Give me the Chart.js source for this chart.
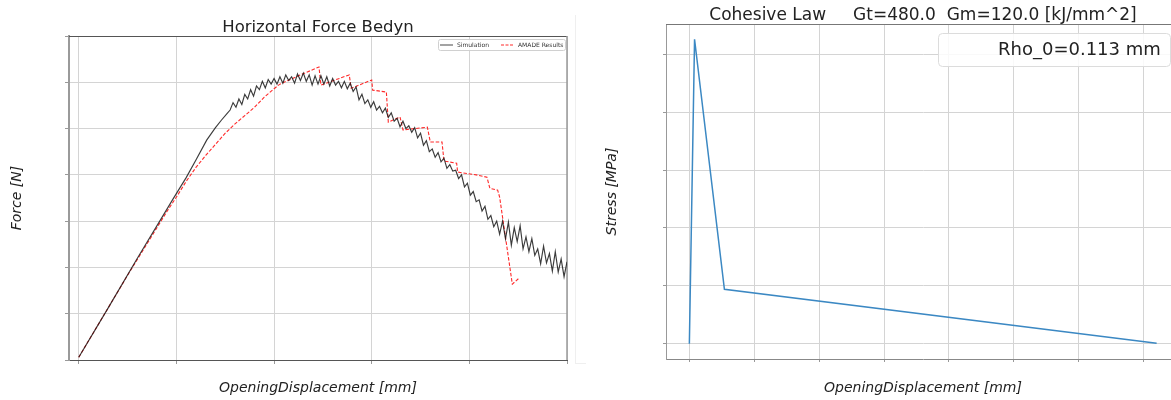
<!DOCTYPE html>
<html><head><meta charset="utf-8">
<script src="https://cdn.jsdelivr.net/npm/chart.js@4.4.1/dist/chart.umd.min.js"></script>
<style>
html,body{margin:0;padding:0;background:#fff;width:1171px;height:400px;overflow:hidden;position:relative}
#c1{position:absolute;left:0;top:0}
#c2{position:absolute;left:590px;top:0}
#edge{position:absolute;left:575px;top:15px;width:10px;height:348px;border-right:0;border-left:1px solid #efefef;border-bottom:1px solid #efefef}
</style></head><body>
<div id="edge"></div>
<canvas id="c1" width="636" height="400"></canvas>
<canvas id="c2" width="666" height="400"></canvas>
<script>
// ---------- Left chart: Horizontal Force Bedyn ----------
const leftTitle = 'Horizontal Force Bedyn';
const leftXLabel = 'OpeningDisplacement [mm]';
const leftYLabel = 'Force [N]';
const simLabel = 'Simulation';
const amadeLabel = 'AMADE Results';

const simX = [0,0.3,0.6,0.96,1.1,1.2,1.31,1.4,1.46,1.52,
1.55,1.58,1.61,1.64,1.67,1.70,1.73,1.76,1.79,1.82,1.85,1.88,1.91,1.94,1.97,
2.00,2.03,2.06,2.09,2.12,2.15,2.18,2.21,2.24,2.27,2.30,2.33,2.36,2.39,2.42,2.45,2.48,
2.51,2.54,2.57,2.60,2.63,2.66,2.69,2.72,2.75,2.78,2.81,2.84,2.87,2.90,2.93,2.96,2.99,
3.02,3.05,3.08,3.11,3.14,3.17,3.20,3.23,3.26,3.29,3.32,3.35,3.38,3.41,3.44,3.47,3.50,
3.53,3.56,3.59,3.62,3.65,3.68,3.71,3.74,3.77,3.80,3.83,3.86,3.89,3.92,3.95,3.98,
4.01,4.04,4.07,4.10,4.13,4.16,4.19,4.22,4.25,4.28,4.31,4.34,4.37,4.40,4.43,4.46,4.49,
4.52,4.55,4.58,4.61,4.64,4.67,4.70,4.73,4.76,4.79,4.82,4.85,4.88,4.91,4.94,4.97,5.00];
const simY = [0.06,1.12,2.2,3.46,3.94,4.32,4.75,5.02,5.18,5.33,
5.40,5.56,5.46,5.64,5.52,5.74,5.64,5.84,5.70,5.92,5.84,6.02,5.88,6.06,5.96,
6.08,5.96,6.12,5.98,6.16,6.04,6.12,5.98,6.18,6.04,6.20,6.02,6.16,5.94,6.14,5.96,6.14,
5.96,6.12,5.92,6.08,5.94,6.02,5.88,6.02,5.86,5.98,5.80,5.90,5.62,5.74,5.54,5.62,5.46,
5.58,5.40,5.48,5.34,5.44,5.24,5.34,5.16,5.22,5.04,5.16,5.00,5.06,4.92,5.02,4.80,4.90,
4.64,4.74,4.50,4.56,4.38,4.48,4.28,4.36,4.14,4.22,4.08,4.10,3.92,4.00,3.74,3.82,
3.56,3.64,3.42,3.46,3.22,3.32,3.04,3.12,2.88,3.00,2.72,3.00,2.62,2.98,2.48,2.86,2.56,
2.90,2.40,2.66,2.34,2.62,2.26,2.40,2.08,2.46,2.10,2.30,1.92,2.34,1.90,2.18,1.80,2.12];

const amadeX = [0,0.5,0.9,1.0,1.1,1.2,1.3,1.4,1.5,1.6,1.7,1.8,1.9,2.0,2.06,2.26,2.46,2.48,
2.77,2.79,3.00,3.01,3.15,3.17,3.29,3.32,3.57,3.60,3.72,3.74,3.87,3.88,4.07,4.18,4.21,4.29,4.31,4.44,4.51];
const amadeY = [0.06,1.83,3.2,3.52,3.86,4.16,4.42,4.66,4.9,5.1,5.28,5.46,5.68,5.86,5.96,6.15,6.33,5.94,
6.16,5.87,6.05,5.83,5.79,5.14,5.25,4.97,5.03,4.71,4.71,4.30,4.25,4.06,4.00,3.95,3.71,3.67,3.52,1.64,1.77];

// ---------- Right chart: Cohesive Law ----------
const rightTitle = 'Cohesive Law     Gt=480.0  Gm=120.0 [kJ/mm^2]';
const rightXLabel = 'OpeningDisplacement [mm]';
const rightYLabel = 'Stress [MPa]';
const rhoLabel = 'Rho_0=0.113 mm';
const lawX = [0, 0.08, 0.54, 7.2];
const lawY = [0, 5.26, 0.94, 0.01];

const FONT = 'DejaVu Sans';
const TXT = '#222';
const GRID = '#d4d4d4';

function pts(xs, ys){ return xs.map((x,i)=>({x:x, y:ys[i]})); }

function framePlugin(topColor, rightColor, rightWidth){
  return {
    id:'frame',
    beforeDatasetsDraw(chart){
      const {ctx, chartArea:a} = chart;
      ctx.save();
      ctx.strokeStyle = topColor; ctx.lineWidth = 1;
      ctx.beginPath(); ctx.moveTo(a.left, a.top+0.5); ctx.lineTo(a.right, a.top+0.5); ctx.stroke();
      if (rightColor){
        ctx.strokeStyle = rightColor; ctx.lineWidth = rightWidth;
        ctx.beginPath(); ctx.moveTo(a.right, a.top); ctx.lineTo(a.right, a.bottom); ctx.stroke();
      }
      ctx.restore();
    }
  };
}

function rrect(ctx,x,y,w,h,r){
  ctx.beginPath();
  ctx.moveTo(x+r,y); ctx.lineTo(x+w-r,y); ctx.quadraticCurveTo(x+w,y,x+w,y+r);
  ctx.lineTo(x+w,y+h-r); ctx.quadraticCurveTo(x+w,y+h,x+w-r,y+h);
  ctx.lineTo(x+r,y+h); ctx.quadraticCurveTo(x,y+h,x,y+h-r);
  ctx.lineTo(x,y+r); ctx.quadraticCurveTo(x,y,x+r,y); ctx.closePath();
}

const legend1 = {
  id:'legend1',
  afterDatasetsDraw(chart){
    const {ctx, chartArea:a} = chart;
    const w=127, h=11, x=a.right-129, y=a.top+3;
    ctx.save();
    rrect(ctx,x+0.5,y+0.5,w,h,2);
    ctx.fillStyle='rgba(255,255,255,0.85)'; ctx.fill();
    ctx.strokeStyle='#d0d0d0'; ctx.lineWidth=1; ctx.stroke();
    const ds = chart.data.datasets;
    const offs=[2,63];
    ctx.font = '6px "'+FONT+'"'; ctx.textBaseline='middle'; ctx.fillStyle='#333';
    ds.forEach((d,i)=>{
      const sx = x+offs[i];
      ctx.strokeStyle = i===0 ? '#666' : d.borderColor;
      ctx.lineWidth = 1.2;
      ctx.setLineDash(i===0 ? [] : [3,1.5]);
      ctx.beginPath(); ctx.moveTo(sx, y+6); ctx.lineTo(sx+13, y+6); ctx.stroke();
      ctx.setLineDash([]);
      ctx.fillText(d.label, sx+17, y+6);
    });
    ctx.restore();
  }
};

const legend2 = {
  id:'legend2',
  afterDatasetsDraw(chart){
    const {ctx, chartArea:a} = chart;
    const x=a.right-242, y=a.top+9, w=232, h=33;
    ctx.save();
    rrect(ctx,x+0.5,y+0.5,w,h,4);
    ctx.fillStyle='rgba(255,255,255,0.85)'; ctx.fill();
    ctx.strokeStyle='#dcdcdc'; ctx.lineWidth=1; ctx.stroke();
    ctx.font = '18px "'+FONT+'"'; ctx.textBaseline='alphabetic'; ctx.fillStyle=TXT;
    ctx.fillText(rhoLabel, x+60, y+22);
    ctx.restore();
  }
};

function axis(min,max,isX,size,titleText,titlePad,borderColor,borderWidth,tickLen){
  return {
    type:'linear', min:min, max:max,
    afterFit(s){ if(isX) s.height=size; else s.width=size; },
    ticks:{display:false, stepSize:1, includeBounds:false},
    grid:{color:GRID, lineWidth:1, tickLength:tickLen, tickColor:'#999', drawTicks:true},
    border:{color:borderColor, width:borderWidth},
    title:{display:true, text:titleText, color:TXT,
      font:{family:FONT, style:'italic', size:14, lineHeight:1.2}, padding:titlePad}
  };
}
function spacer(size){
  return {
    type:'linear', position:'right', min:0, max:1, display:true,
    afterFit(s){ s.width=size; },
    ticks:{display:false}, grid:{display:false, drawTicks:false}, border:{display:false}
  };
}

new Chart(document.getElementById('c1'), {
  type:'scatter',
  data:{datasets:[
    {label:simLabel, data:pts(simX,simY), xAxisID:'x', yAxisID:'y', showLine:true, borderColor:'rgba(25,25,25,0.85)', borderWidth:1.15, pointRadius:0, tension:0},
    {label:amadeLabel, data:pts(amadeX,amadeY), xAxisID:'x', yAxisID:'y', showLine:true, borderColor:'#ff2a2a', borderDash:[3.5,1.8], borderWidth:1.1, pointRadius:0, tension:0}
  ]},
  options:{
    responsive:false, animation:false, events:[],
    layout:{padding:0},
    plugins:{
      legend:{display:false}, tooltip:{enabled:false},
      title:{display:true, text:leftTitle, color:TXT, font:{family:FONT, size:16.5, weight:'normal', lineHeight:1}, padding:{top:19,bottom:0.5}}
    },
    scales:{
      x: axis(-0.1,5,true,40,leftXLabel,{top:0,bottom:3},'#555',1,4),
      y: axis(0,7,false,69,leftYLabel,{top:9,bottom:0},'#9a9a9a',2,4),
      yr: spacer(69)
    }
  },
  plugins:[framePlugin('#555','#9a9a9a',1.5), legend1]
});

new Chart(document.getElementById('c2'), {
  type:'scatter',
  data:{datasets:[
    {label:rhoLabel, data:pts(lawX,lawY), xAxisID:'x', yAxisID:'y', showLine:true, borderColor:'#3b88c3', borderWidth:1.5, pointRadius:0, tension:0}
  ]},
  options:{
    responsive:false, animation:false, events:[],
    layout:{padding:0},
    plugins:{
      legend:{display:false}, tooltip:{enabled:false},
      title:{display:true, text:rightTitle, color:TXT, font:{family:FONT, size:17, weight:'normal', lineHeight:1}, padding:{top:7,bottom:0}}
    },
    scales:{
      x: axis(-0.36,7.56,true,41,rightXLabel,{top:0,bottom:3},'#888',1,3),
      y: axis(-0.263,5.523,false,76,rightYLabel,{top:14,bottom:0},'#999',1,3),
      yr: spacer(76)
    }
  },
  plugins:[framePlugin('#777',null,0), legend2]
});
</script></body></html>
